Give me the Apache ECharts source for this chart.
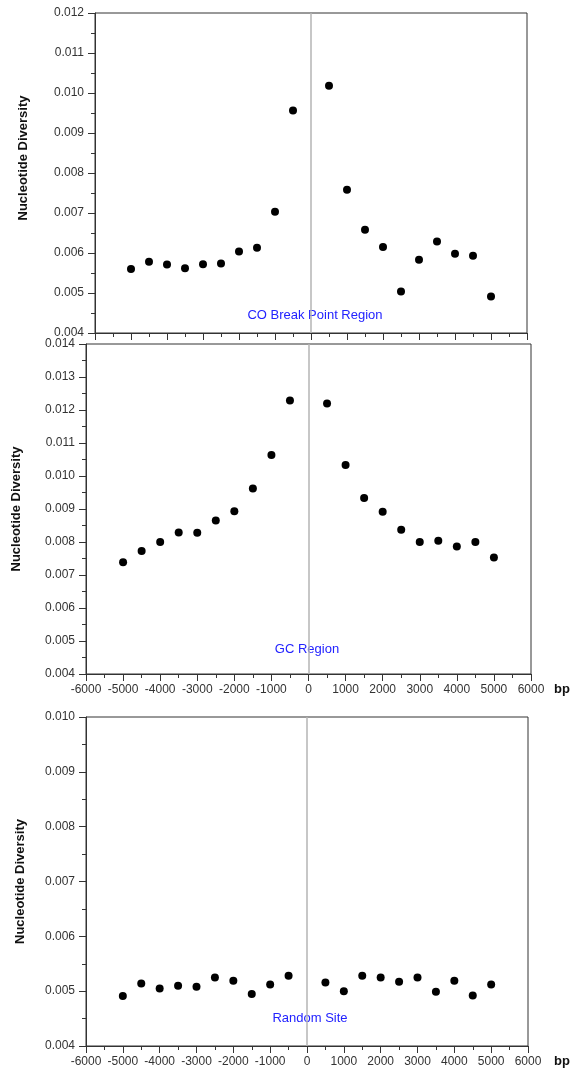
<!DOCTYPE html>
<html>
<head>
<meta charset="utf-8">
<script src="https://cdn.jsdelivr.net/npm/echarts@6/dist/echarts.min.js"></script>
<style>
  html, body { margin: 0; padding: 0; background: #fff; }
  #chart { width: 572px; height: 1073px; }
</style>
</head>
<body>
<div id="chart"></div>
<script>
// distance from site (bp)
const positions = [-5000, -4500, -4000, -3500, -3000, -2500, -2000, -1500, -1000, -500,
  500, 1000, 1500, 2000, 2500, 3000, 3500, 4000, 4500, 5000]

// nucleotide diversity per window
const coBreakPoint = [0.00560, 0.00578, 0.00571, 0.00562, 0.00572, 0.00574, 0.00604, 0.00613, 0.00703, 0.00956,
  0.01018, 0.00758, 0.00658, 0.00615, 0.00504, 0.00583, 0.00629, 0.00598, 0.00593, 0.00491]
const gcRegion = [0.00739, 0.00773, 0.00800, 0.00829, 0.00828, 0.00865, 0.00893, 0.00962, 0.01064, 0.01229,
  0.01220, 0.01033, 0.00933, 0.00892, 0.00837, 0.00800, 0.00804, 0.00786, 0.00800, 0.00753]
const randomSite = [0.00491, 0.00514, 0.00505, 0.00510, 0.00508, 0.00525, 0.00519, 0.00495, 0.00512, 0.00528,
  0.00516, 0.00500, 0.00528, 0.00525, 0.00517, 0.00525, 0.00499, 0.00519, 0.00492, 0.00512]

const panelLabels = ['CO Break Point Region', 'GC Region', 'Random Site']

const chart = echarts.init(document.getElementById('chart'))

const axisColor = '#333'
const labelFont = { fontFamily: 'Liberation Sans', fontSize: 12, color: '#333' }

// 每个面板的布局
const panels = [
  { grid: { left: 95, top: 13, width: 432, height: 320 }, yMin: 0.004, yMax: 0.012, showX: false, nameGap: 65, bpGap: 23, namePad: [0, 0, 0, 30], data: coBreakPoint, label: [315, 315] },
  { grid: { left: 86, top: 344, width: 445, height: 330 }, yMin: 0.004, yMax: 0.014, showX: true, nameGap: 63, bpGap: 23, namePad: [0, 0, 0, 0], data: gcRegion, label: [307, 649] },
  { grid: { left: 86, top: 717, width: 442, height: 329 }, yMin: 0.004, yMax: 0.010, showX: true, nameGap: 59, bpGap: 26, namePad: [0, 0, 0, 0], data: randomSite, label: [310, 1018] }
]

const option = {
  animation: false,
  backgroundColor: '#fff',
  grid: panels.map(p => ({
    ...p.grid,
    show: true,
    borderColor: axisColor,
    borderWidth: 1,
    backgroundColor: 'transparent'
  })),
  xAxis: panels.map((p, i) => ({
    type: 'value',
    gridIndex: i,
    min: -6000,
    max: 6000,
    interval: 1000,
    name: p.showX ? 'bp' : '',
    nameLocation: 'end',
    nameGap: p.bpGap,
    nameTextStyle: {
      fontFamily: 'Liberation Sans',
      fontWeight: 'bold',
      fontSize: 13,
      color: '#111',
      verticalAlign: 'top',
      padding: [9, 0, 0, 0]
    },
    axisLine: { show: true, onZero: false, lineStyle: { color: axisColor, width: 1 } },
    axisTick: { show: true, length: 7, lineStyle: { color: axisColor } },
    minorTick: { show: true, splitNumber: 2, length: 4, lineStyle: { color: axisColor } },
    axisLabel: { show: p.showX, margin: 10, formatter: v => String(v), ...labelFont },
    splitLine: { show: false }
  })),
  yAxis: panels.map((p, i) => ({
    type: 'value',
    gridIndex: i,
    min: p.yMin,
    max: p.yMax,
    interval: 0.001,
    name: 'Nucleotide Diversity',
    nameLocation: 'middle',
    nameGap: p.nameGap,
    nameTextStyle: {
      fontFamily: 'Liberation Sans',
      fontWeight: 'bold',
      fontSize: 13,
      color: '#111',
      padding: p.namePad
    },
    axisLine: { show: true, onZero: false, lineStyle: { color: axisColor, width: 1 } },
    axisTick: { show: true, length: 7, lineStyle: { color: axisColor } },
    minorTick: { show: true, splitNumber: 2, length: 4, lineStyle: { color: axisColor } },
    axisLabel: { margin: 11, formatter: v => v.toFixed(3), ...labelFont },
    splitLine: { show: false }
  })),
  series: panels.map((p, i) => ({
    type: 'scatter',
    xAxisIndex: i,
    yAxisIndex: i,
    symbol: 'circle',
    symbolSize: 8,
    itemStyle: { color: '#000', opacity: 1 },
    data: positions.map((x, j) => [x, p.data[j]]),
    markLine: {
      silent: true,
      symbol: 'none',
      label: { show: false },
      lineStyle: { color: '#b5b5b5', type: 'solid', width: 1.5 },
      data: [{ xAxis: 0 }]
    },
    z: 3
  })),
  graphic: panels.map((p, i) => ({
    type: 'text',
    x: p.label[0],
    y: p.label[1],
    style: {
      text: panelLabels[i],
      fill: '#2222ff',
      font: '13px "Liberation Sans"',
      align: 'center',
      verticalAlign: 'middle'
    }
  }))
}

chart.setOption(option)
</script>
</body>
</html>
